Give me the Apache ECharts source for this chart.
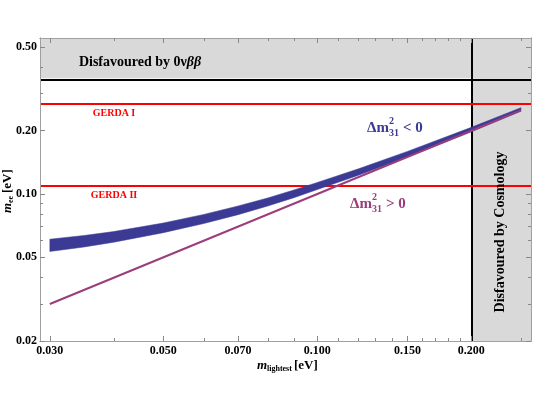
<!DOCTYPE html>
<html><head><meta charset="utf-8">
<script src="https://cdn.jsdelivr.net/npm/echarts@6/dist/echarts.min.js"></script>
<style>html,body{margin:0;padding:0;background:#fff}#c{width:534px;height:400px}</style>
</head><body><div id="c"></div>
<script>
// ---- data ----
const mLightest = [0.03, 0.035, 0.04, 0.05, 0.06, 0.07, 0.08, 0.09, 0.10, 0.12, 0.15, 0.20, 0.25];
const ihUpper   = [0.0610, 0.0635, 0.0663, 0.0728, 0.0800, 0.0877, 0.0958, 0.1045, 0.1135, 0.1315, 0.1595, 0.2075, 0.2575];
const ihLower   = [0.0533, 0.0560, 0.0590, 0.0655, 0.0724, 0.0798, 0.0877, 0.0961, 0.1050, 0.1226, 0.1499, 0.1975, 0.2477];
const nhX = [0.03, 0.10, 0.25];
const nhY = [0.030, 0.100, 0.250];
const limit0nbb = 0.355;
const gerdaI = 0.27;
const gerdaII = 0.11;
const cosmoLimit = 0.2;
const xRange = [0.0287, 0.2616];
const yRange = [0.02, 0.552];
const xTicks = [0.03, 0.05, 0.07, 0.1, 0.15, 0.2];
const xTickLabels = ['0.030', '0.050', '0.070', '0.100', '0.150', '0.200'];
const xMinor = [0.04, 0.06, 0.08, 0.09, 0.11, 0.12, 0.13, 0.14, 0.16, 0.17, 0.18, 0.19, 0.25];
const yTicks = [0.02, 0.05, 0.1, 0.2, 0.5];
const yTickLabels = ['0.02', '0.05', '0.10', '0.20', '0.50'];
const yMinor = [0.03, 0.04, 0.06, 0.07, 0.08, 0.09, 0.3, 0.4];

const SERIF = '"Liberation Serif", "DejaVu Serif", serif';
const FRAME = '#a0a0a0';

function lab(vals, labels) {
  return function (v) {
    for (let i = 0; i < vals.length; i++) if (Math.abs(vals[i] - v) / vals[i] < 1e-6) return labels[i];
    return '';
  };
}
function xAx(pos, ticks, len, showLabel) {
  return {
    type: 'log', logBase: 10, min: xRange[0], max: xRange[1], position: pos, z: 10,
    axisLine: { show: true, lineStyle: { color: FRAME, width: 1 } },
    axisTick: { show: true, inside: true, length: len, customValues: ticks, lineStyle: { color: '#888' } },
    axisLabel: { show: showLabel, customValues: ticks, formatter: lab(xTicks, xTickLabels),
      fontFamily: SERIF, fontWeight: 'bold', fontSize: 12, color: '#000', margin: 4 },
    splitLine: { show: false }, minorTick: { show: false }
  };
}
function yAx(pos, ticks, len, showLabel) {
  return {
    type: 'log', logBase: 10, min: yRange[0], max: yRange[1], position: pos, z: 10,
    axisLine: { show: true, lineStyle: { color: FRAME, width: 1 } },
    axisTick: { show: true, inside: true, length: len, customValues: ticks, lineStyle: { color: '#888' } },
    axisLabel: { show: showLabel, customValues: ticks, formatter: lab(yTicks, yTickLabels),
      fontFamily: SERIF, fontWeight: 'bold', fontSize: 12, color: '#000', margin: 3 },
    splitLine: { show: false }, minorTick: { show: false }
  };
}

const chart = echarts.init(document.getElementById('c'), null, { renderer: 'canvas' });
const option = {
  animation: false,
  backgroundColor: '#fff',
  grid: { left: 40, right: 3, top: 38, bottom: 59, containLabel: false },
  xAxis: [xAx('bottom', xTicks, 5, true), xAx('bottom', xMinor, 3, false), xAx('top', xTicks, 5, false), xAx('top', xMinor, 3, false)],
  yAxis: [yAx('left', yTicks, 5, true), yAx('left', yMinor, 3, false), yAx('right', yTicks, 5, false), yAx('right', yMinor, 3, false)],
  series: [
    {
      type: 'line', xAxisIndex: 0, yAxisIndex: 0, data: [], z: 1, silent: true,
      markArea: {
        silent: true,
        itemStyle: { color: '#d9d9d9', opacity: 1 },
        data: [
          [{ xAxis: xRange[0], yAxis: limit0nbb }, { xAxis: xRange[1], yAxis: yRange[1] }],
          [{ xAxis: cosmoLimit, yAxis: yRange[0] }, { xAxis: xRange[1], yAxis: limit0nbb }]
        ]
      },
      markLine: {
        silent: true, symbol: ['none', 'none'], label: { show: false },
        data: [
          { yAxis: limit0nbb, lineStyle: { color: '#000', width: 2, type: 'solid' } },
          { xAxis: cosmoLimit, lineStyle: { color: '#000', width: 2, type: 'solid' } },
          { yAxis: gerdaI, lineStyle: { color: '#ff0000', width: 2, type: 'solid' } },
          { yAxis: gerdaII, lineStyle: { color: '#ff0000', width: 2, type: 'solid' } }
        ]
      }
    },
    {
      type: 'custom', xAxisIndex: 0, yAxisIndex: 0, z: 5, silent: true,
      data: [[0.05, 0.07]],
      renderItem: function (params, api) {
        const pts = [];
        for (let i = 0; i < mLightest.length; i++) pts.push(api.coord([mLightest[i], ihUpper[i]]));
        for (let i = mLightest.length - 1; i >= 0; i--) pts.push(api.coord([mLightest[i], ihLower[i]]));
        return { type: 'polygon', shape: { points: pts }, style: { fill: '#3b3b95', stroke: '#3b3b95', lineWidth: 0.5 } };
      }
    },
    {
      type: 'line', xAxisIndex: 0, yAxisIndex: 0, z: 6, silent: true,
      data: nhX.map((x, i) => [x, nhY[i]]),
      showSymbol: false, symbol: 'none',
      lineStyle: { color: '#9b3d7a', width: 2 }
    }
  ],
  graphic: [
    { type: 'text', x: 140, y: 62, z: 20, style: {
        text: '{a|Disfavoured by 0\u03bd}{b|\u03b2\u03b2}', textAlign: 'center', textVerticalAlign: 'middle',
        rich: { a: { font: 'bold 14px ' + SERIF, fill: '#000', color: '#000' }, b: { font: 'italic bold 14px ' + SERIF, color: '#000', fill: '#000' } } } },
    { type: 'text', x: 500, y: 232, rotation: Math.PI / 2, z: 20,
      style: { text: 'Disfavoured by Cosmology', font: 'bold 14px ' + SERIF, fill: '#000', textAlign: 'center', textVerticalAlign: 'middle' } },
    { type: 'text', x: 114, y: 113, z: 20, style: { text: 'GERDA I', font: 'bold 10px ' + SERIF, fill: '#ff0000', textAlign: 'center', textVerticalAlign: 'middle' } },
    { type: 'text', x: 114, y: 195, z: 20, style: { text: 'GERDA II', font: 'bold 10px ' + SERIF, fill: '#ff0000', textAlign: 'center', textVerticalAlign: 'middle' } },
    // Δm²31 < 0
    { type: 'text', x: 367, y: 128, z: 20, style: { text: '\u0394m', font: 'bold 15px ' + SERIF, fill: '#3b3b95', textVerticalAlign: 'middle' } },
    { type: 'text', x: 389, y: 121, z: 20, style: { text: '2', font: 'bold 10px ' + SERIF, fill: '#3b3b95', textVerticalAlign: 'middle' } },
    { type: 'text', x: 389, y: 133, z: 20, style: { text: '31', font: 'bold 10px ' + SERIF, fill: '#3b3b95', textVerticalAlign: 'middle' } },
    { type: 'text', x: 403, y: 128, z: 20, style: { text: '< 0', font: 'bold 15px ' + SERIF, fill: '#3b3b95', textVerticalAlign: 'middle' } },
    // Δm²31 > 0
    { type: 'text', x: 350, y: 204, z: 20, style: { text: '\u0394m', font: 'bold 15px ' + SERIF, fill: '#9b3d7a', textVerticalAlign: 'middle' } },
    { type: 'text', x: 372, y: 197, z: 20, style: { text: '2', font: 'bold 10px ' + SERIF, fill: '#9b3d7a', textVerticalAlign: 'middle' } },
    { type: 'text', x: 372, y: 209, z: 20, style: { text: '31', font: 'bold 10px ' + SERIF, fill: '#9b3d7a', textVerticalAlign: 'middle' } },
    { type: 'text', x: 386, y: 204, z: 20, style: { text: '> 0', font: 'bold 15px ' + SERIF, fill: '#9b3d7a', textVerticalAlign: 'middle' } },
    // x axis name
    { type: 'text', x: 257, y: 366, z: 20, style: { text: 'm', font: 'italic bold 13px ' + SERIF, fill: '#000', textVerticalAlign: 'middle' } },
    { type: 'text', x: 267, y: 369, z: 20, style: { text: 'lightest', font: 'bold 8px ' + SERIF, fill: '#000', textVerticalAlign: 'middle' } },
    { type: 'text', x: 294, y: 366, z: 20, style: { text: '[eV]', font: 'bold 13px ' + SERIF, fill: '#000', textVerticalAlign: 'middle' } },
    // y axis name (rotated)
    { type: 'group', x: 8, y: 192, rotation: Math.PI / 2, z: 20, children: [
      { type: 'text', x: -21, y: 0, style: { text: 'm', font: 'italic bold 13px ' + SERIF, fill: '#000', textVerticalAlign: 'middle' } },
      { type: 'text', x: -11, y: 3, style: { text: 'ee', font: 'bold 8px ' + SERIF, fill: '#000', textVerticalAlign: 'middle' } },
      { type: 'text', x: -1, y: 0, style: { text: '[eV]', font: 'bold 13px ' + SERIF, fill: '#000', textVerticalAlign: 'middle' } }
    ] }
  ]
};
chart.setOption(option);
</script>
</body></html>
